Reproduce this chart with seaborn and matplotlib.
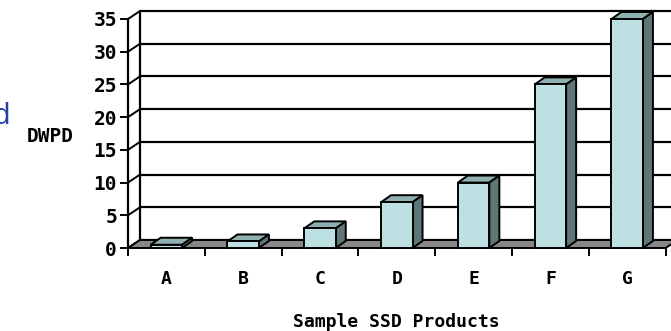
import matplotlib
matplotlib.use("Agg")
import matplotlib.pyplot as plt
from matplotlib.patches import Polygon
import numpy as np
import pandas as pd
import seaborn as sns

# Data
products = ["A", "B", "C", "D", "E", "F", "G"]
dwpd = [0.5, 1, 3, 7, 10, 25, 35]
y_ticks = [0, 5, 10, 15, 20, 25, 30, 35]

# Colours
FRONT = "#BDE0E2"
TOP = "#8FB0B1"
SIDE = "#607676"
FLOOR = "#878787"

sns.set_theme(style="white")
plt.rcParams["font.family"] = ["DejaVu Sans Mono", "DejaVu Sans"]
plt.rcParams["font.weight"] = "bold"
plt.rcParams["text.color"] = "black"
plt.rcParams["xtick.color"] = "black"
plt.rcParams["ytick.color"] = "black"
plt.rcParams["axes.labelcolor"] = "black"

W, H = 671, 331
fig = plt.figure(figsize=(W / 100, H / 100), dpi=100)
ax_left, ax_right, ax_bottom, ax_top = 128, 665.6, 248, 19
ax = fig.add_axes([ax_left / W, 1 - ax_bottom / H,
                   (ax_right - ax_left) / W, (ax_bottom - ax_top) / H])
ax.set_xlim(-0.5, len(products) - 0.5)
ax.set_ylim(0, 35)

px_x = (ax_right - ax_left) / len(products)   # pixels per category
px_y = (ax_bottom - ax_top) / 35.0            # pixels per unit

# depth offsets of the walls and of the columns, in data units
wdx, wdy = 12 / px_x, 8 / px_y
bdx, bdy = 10 / px_x, 7 / px_y

x0, x1 = -0.5, len(products) - 0.5

# back wall gridlines and side-wall diagonals
for v in y_ticks:
    ax.plot([x0 + wdx, x1 + 1.0], [v + wdy, v + wdy], color="black",
            lw=1.6, clip_on=False, zorder=1)
    ax.plot([x0, x0 + wdx], [v, v + wdy], color="black", lw=1.4,
            clip_on=False, zorder=1)
ax.plot([x0 + wdx, x0 + wdx], [wdy, 35 + wdy], color="black", lw=1.6,
        clip_on=False, zorder=1)

# floor
floor = Polygon([(x0, 0), (x1, 0), (x1 + wdx, wdy), (x0 + wdx, wdy)],
                closed=True, facecolor=FLOOR, edgecolor="black", lw=1.4,
                clip_on=False, zorder=2)
ax.add_patch(floor)

# front faces of the columns
df = pd.DataFrame({"product": products, "dwpd": dwpd})
sns.barplot(data=df, x="product", y="dwpd", color=FRONT, saturation=1,
            width=0.41, edgecolor="black", linewidth=1.4, ax=ax, zorder=4)

# top and side faces of the columns
for p in list(ax.patches):
    if p is floor:
        continue
    bx, bw, bh = p.get_x(), p.get_width(), p.get_height()
    top = Polygon([(bx, bh), (bx + bw, bh), (bx + bw + bdx, bh + bdy),
                   (bx + bdx, bh + bdy)], closed=True, facecolor=TOP,
                  edgecolor="black", lw=1.4, clip_on=False, zorder=3)
    side = Polygon([(bx + bw, 0), (bx + bw, bh), (bx + bw + bdx, bh + bdy),
                    (bx + bw + bdx, bdy)], closed=True, facecolor=SIDE,
                   edgecolor="black", lw=1.4, clip_on=False, zorder=3)
    ax.add_patch(top)
    ax.add_patch(side)
    p.set_clip_on(False)

# axes lines
for s in ["top", "right", "bottom"]:
    ax.spines[s].set_visible(False)
ax.spines["left"].set_color("black")
ax.spines["left"].set_linewidth(1.6)
ax.spines["left"].set_zorder(5)

ax.set_yticks(y_ticks)
ax.set_yticklabels([str(v) for v in y_ticks], fontsize=14, fontweight="bold")
ax.tick_params(axis="y", which="major", direction="out", length=6, width=1.4,
               color="black", pad=2, left=True)

ax.set_xticks(np.arange(-0.5, len(products), 1.0))
ax.set_xticklabels([""] * (len(products) + 1))
ax.set_xticks(np.arange(len(products)), minor=True)
ax.set_xticklabels(products, minor=True, fontsize=13, fontweight="bold")
ax.tick_params(axis="x", which="major", direction="out", length=6, width=1.4,
               color="black", bottom=True)
ax.tick_params(axis="x", which="minor", length=0, pad=16)

ax.set_xlabel("Sample SSD Products", fontsize=13, fontweight="bold",
              labelpad=18)
ax.set_ylabel("")

fig.text(50 / W, 1 - 137 / H, "DWPD", fontsize=14, fontweight="bold",
         ha="center", va="center")
fig.text(10 / W, 1 - 124 / H, "d", fontsize=21, fontweight="normal",
         family=["Liberation Sans", "DejaVu Sans"], color="#2443A6",
         ha="right", va="baseline")

fig.savefig("out.png", dpi=100)
